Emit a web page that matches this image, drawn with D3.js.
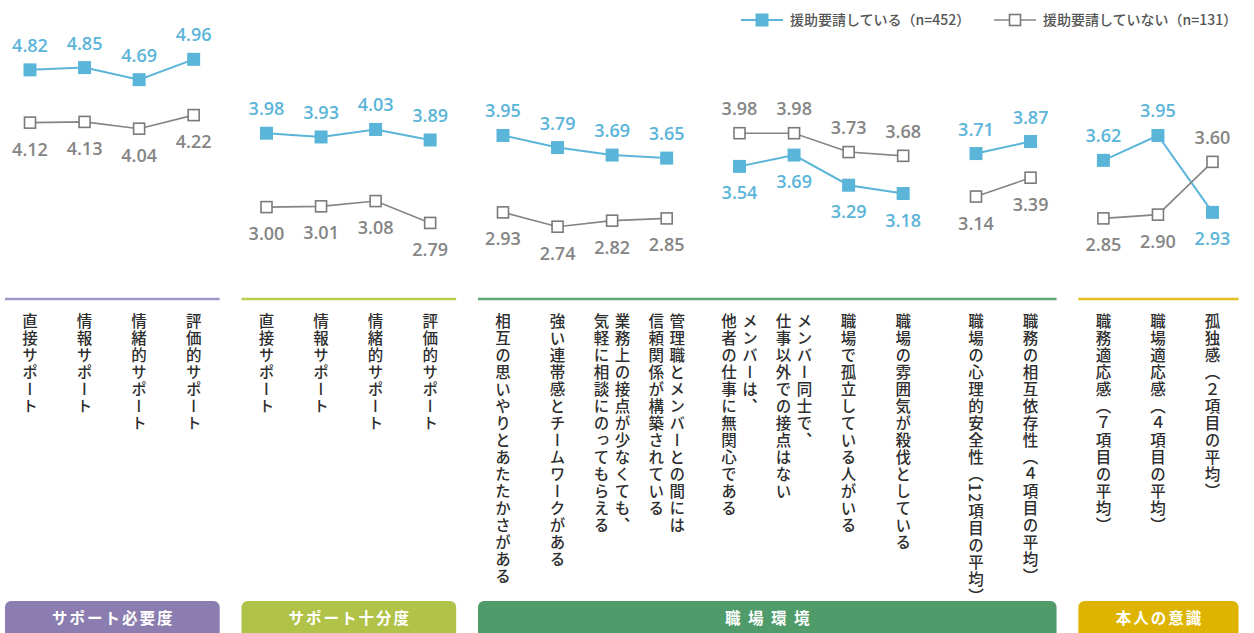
<!DOCTYPE html>
<html lang="ja">
<head>
<meta charset="utf-8">
<title>援助要請と職場環境</title>
<script src="https://cdn.jsdelivr.net/npm/d3@7"></script>
<style>
  html, body { margin: 0; padding: 0; background: #fff; }
  svg { display: block; }
  .val { font-family: "Open Sans", "Noto Sans", sans-serif; font-weight: 600; font-size: 18px; }
  .cat { font-family: "Noto Sans CJK JP", sans-serif; font-size: 15.5px; font-weight: 500; fill: #2e2e2e; letter-spacing: 1.5px; }
  .legend { font-family: "Noto Sans CJK JP", sans-serif; font-size: 14px; font-weight: 500; fill: #555; }
  .grp { font-family: "Noto Sans CJK JP", sans-serif; font-size: 15.5px; font-weight: 700; fill: #fff; letter-spacing: 2px; }
</style>
</head>
<body>
<svg id="chart" width="1254" height="633"></svg>
<script>
// --- data ---
// categories (vertical labels, first line = right column)
var categories = [
  ["直接サポート"], ["情報サポート"], ["情緒的サポート"], ["評価的サポート"],
  ["直接サポート"], ["情報サポート"], ["情緒的サポート"], ["評価的サポート"],
  ["相互の思いやりとあたたかさがある"],
  ["強い連帯感とチームワークがある"],
  ["業務上の接点が少なくても、", "気軽に相談にのってもらえる"],
  ["管理職とメンバーとの間には", "信頼関係が構築されている"],
  ["メンバーは、", "他者の仕事に無関心である"],
  ["メンバー同士で、", "仕事以外での接点はない"],
  ["職場で孤立している人がいる"],
  ["職場の雰囲気が殺伐としている"],
  ["職場の心理的安全性（12項目の平均）"],
  ["職務の相互依存性（４項目の平均）"],
  ["職務適応感（７項目の平均）"],
  ["職場適応感（４項目の平均）"],
  ["孤独感（２項目の平均）"]
];
// which line segment each category belongs to
var segments = [0,0,0,0, 1,1,1,1, 2,2,2,2, 3,3,3,3, 4,4, 5,5,5];
// which group each segment belongs to
var segmentGroup = [0, 1, 2, 2, 2, 3];

var groupNames = ["サポート必要度", "サポート十分度", "職 場 環 境", "本人の意識"];
var groupLineColors = ["#a097c6", "#bccd4e", "#5fa676", "#e3bd1e"];
var groupBoxColors = ["#8b7daf", "#b0c247", "#4f9b6a", "#dfb400"];

var seriesNames = ["援助要請している（n=452）", "援助要請していない（n=131）"];
var seeking = [4.82, 4.85, 4.69, 4.96, 3.98, 3.93, 4.03, 3.89, 3.95, 3.79, 3.69, 3.65,
               3.54, 3.69, 3.29, 3.18, 3.71, 3.87, 3.62, 3.95, 2.93];
var notSeeking = [4.12, 4.13, 4.04, 4.22, 3.00, 3.01, 3.08, 2.79, 2.93, 2.74, 2.82, 2.85,
                  3.98, 3.98, 3.73, 3.68, 3.14, 3.39, 2.85, 2.90, 3.60];

var BLUE = "#5bb5d9", GREY = "#858585";

// --- scales ---
var svg = d3.select("#chart");
var gapRatio = 0.335;
var slot = categories.map(function(d, i) { return i + segments[i] * gapRatio; });
var x = d3.scaleLinear().domain([0, d3.max(slot)]).range([30, 1212.5]);
var y = d3.scaleLinear().domain([2.5, 5.0]).range([244.8, 56.3]);

var points = categories.map(function(c, i) {
  return { i: i, x: x(slot[i]), seg: segments[i], a: seeking[i], b: notSeeking[i] };
});

// --- group rules + boxes ---
groupNames.forEach(function(name, g) {
  var pts = points.filter(function(p) { return segmentGroup[p.seg] === g; });
  var x0 = d3.min(pts, function(p) { return p.x; }) - 25;
  var x1 = d3.max(pts, function(p) { return p.x; }) + 26;
  svg.append("line")
    .attr("x1", x0).attr("x2", x1).attr("y1", 299).attr("y2", 299)
    .attr("stroke", groupLineColors[g]).attr("stroke-width", 2.6);
  svg.append("rect")
    .attr("x", x0).attr("y", 601).attr("width", x1 - x0).attr("height", 45)
    .attr("rx", 6).attr("fill", groupBoxColors[g]);
  svg.append("text").attr("class", "grp")
    .attr("x", (x0 + x1) / 2 + 1).attr("y", 623.5)
    .attr("text-anchor", "middle")
    .text(name);
});

// --- category labels (vertical) ---
points.forEach(function(p) {
  var lines = categories[p.i];
  lines.forEach(function(t, k) {
    var off = lines.length === 1 ? 0 : (k === 0 ? 10.5 : -10.5);
    svg.append("text").attr("class", "cat")
      .attr("x", p.x + off).attr("y", 313)
      .style("writing-mode", "vertical-rl")
      .text(t);
  });
});

// --- lines and markers ---
var line = d3.line().x(function(d) { return d.x; }).y(function(d) { return d.y; });
var series = [
  { key: "a", color: BLUE, filled: true },
  { key: "b", color: GREY, filled: false }
];

d3.range(6).forEach(function(s) {
  var pts = points.filter(function(p) { return p.seg === s; });
  series.forEach(function(ser) {
    svg.append("path")
      .attr("d", line(pts.map(function(p) { return { x: p.x, y: y(p[ser.key]) }; })))
      .attr("fill", "none")
      .attr("stroke", ser.color)
      .attr("stroke-width", ser.filled ? 2 : 1.6);
  });
});

series.forEach(function(ser) {
  var other = ser.key === "a" ? "b" : "a";
  var g = svg.append("g");
  g.selectAll("rect").data(points).enter().append("rect")
    .attr("x", function(p) { return p.x - (ser.filled ? 6.5 : 5.5); })
    .attr("y", function(p) { return y(p[ser.key]) - (ser.filled ? 6.5 : 5.5); })
    .attr("width", ser.filled ? 13 : 11).attr("height", ser.filled ? 13 : 11)
    .attr("fill", ser.filled ? ser.color : "#fff")
    .attr("stroke", ser.filled ? "none" : "#7a7a7a")
    .attr("stroke-width", 1.6);
  g.selectAll("text").data(points).enter().append("text")
    .attr("class", "val")
    .attr("x", function(p) { return p.x; })
    .attr("y", function(p) {
      var above = p[ser.key] >= p[other];
      return y(p[ser.key]) + (above ? -18 : 33);
    })
    .attr("text-anchor", "middle")
    .attr("fill", ser.color)
    .text(function(p) { return d3.format(".2f")(p[ser.key]); });
});

// --- legend ---
var legend = [
  { x0: 741, name: seriesNames[0], ser: series[0] },
  { x0: 994, name: seriesNames[1], ser: series[1] }
];
legend.forEach(function(l) {
  var ly = 20;
  svg.append("line").attr("x1", l.x0).attr("x2", l.x0 + 42).attr("y1", ly).attr("y2", ly)
    .attr("stroke", l.ser.filled ? BLUE : GREY).attr("stroke-width", l.ser.filled ? 2 : 1.6);
  var s = l.ser.filled ? 13 : 11;
  svg.append("rect").attr("x", l.x0 + 21 - s / 2).attr("y", ly - s / 2)
    .attr("width", s).attr("height", s)
    .attr("fill", l.ser.filled ? BLUE : "#fff")
    .attr("stroke", l.ser.filled ? "none" : "#7a7a7a").attr("stroke-width", 1.6);
  svg.append("text").attr("class", "legend")
    .attr("x", l.x0 + 49).attr("y", ly + 5)
    .text(l.name);
});
</script>
</body>
</html>
